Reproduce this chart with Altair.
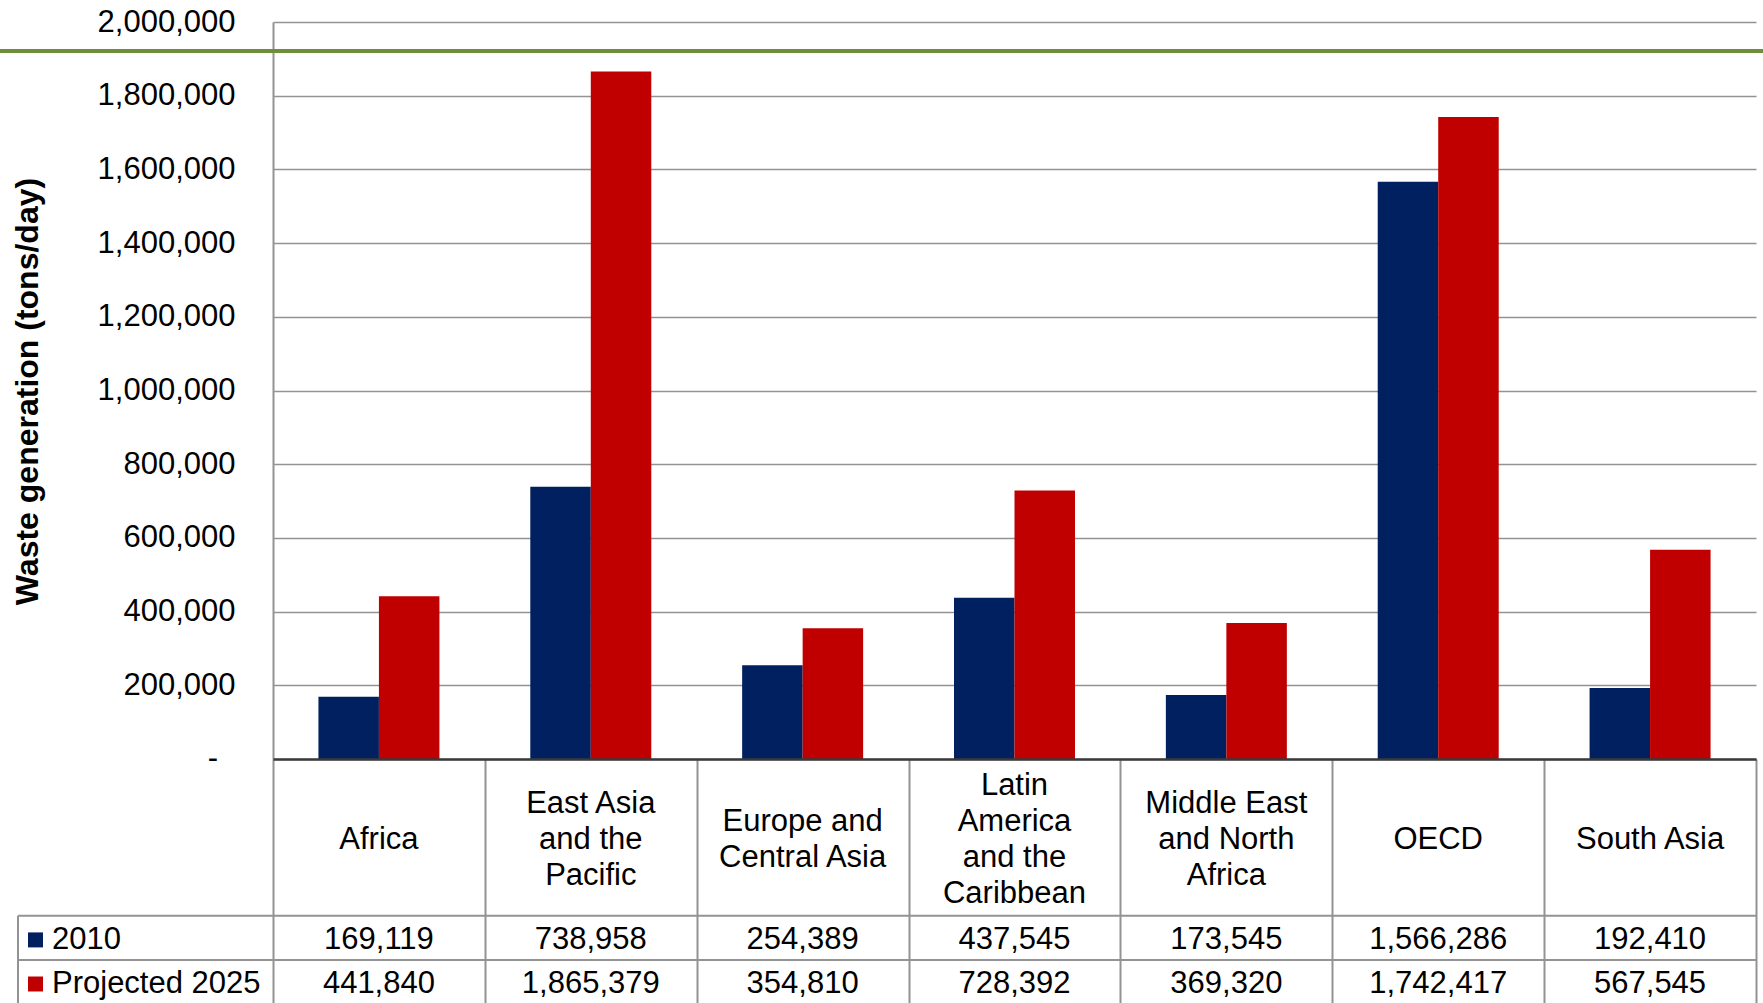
import altair as alt
import pandas as pd

regions = ["Africa", "East Asia and the Pacific", "Europe and Central Asia",
           "Latin America and the Caribbean", "Middle East and North Africa",
           "OECD", "South Asia"]
header_labels = ["Africa", "East Asia\nand the\nPacific", "Europe and\nCentral Asia",
                 "Latin\nAmerica\nand the\nCaribbean", "Middle East\nand North\nAfrica",
                 "OECD", "South Asia"]
series = ["2010", "Projected 2025"]
vals_2010 = [169119, 738958, 254389, 437545, 173545, 1566286, 192410]
vals_2025 = [441840, 1865379, 354810, 728392, 369320, 1742417, 567545]
y_ticks = [0, 200000, 400000, 600000, 800000, 1000000, 1200000, 1400000,
           1600000, 1800000, 2000000]
colors = ["#002060", "#C00000"]

FONT = "Liberation Sans"
GRAY = "#939393"
LH = 36  # header line height

rows = []
for r, a, b in zip(regions, vals_2010, vals_2025):
    rows.append({"region": r, "series": series[0], "value": a})
    rows.append({"region": r, "series": series[1], "value": b})
df = pd.DataFrame(rows)
hdr = pd.DataFrame({"region": regions, "header": header_labels})
leg = pd.DataFrame({"series": series})
one = pd.DataFrame({"k": [0]})
zero = pd.DataFrame({"v": [0], "t": ["-"]})

x_scale = alt.Scale(domain=regions, paddingInner=0, paddingOuter=0)
y_scale = alt.Scale(domain=[0, 2000000], nice=False)
row_scale = alt.Scale(type="point", domain=series, range=[917.9, 962.0], padding=0)
color = alt.Color("series:N", scale=alt.Scale(domain=series, range=colors), legend=None)

bars = alt.Chart(df).mark_bar().encode(
    x=alt.X("region:N", sort=regions, scale=x_scale,
            axis=alt.Axis(labels=False, title=None, grid=False,
                          domainColor="#3a3a3a", domainWidth=2.5,
                          tickBand="extent", tickSize=245, tickColor=GRAY,
                          tickWidth=2, zindex=1)),
    xOffset=alt.XOffset("series:N", sort=series,
                        scale=alt.Scale(domain=series, paddingInner=0, paddingOuter=0.751)),
    y=alt.Y("value:Q", scale=y_scale,
            axis=alt.Axis(values=y_ticks, format=",.0f",
                          labelExpr="datum.value == 0 ? '' : datum.label",
                          grid=True, gridColor=GRAY, gridWidth=1.5,
                          ticks=False, domainColor=GRAY, domainWidth=2,
                          labelFont=FONT, labelFontSize=31, labelColor="black",
                          labelPadding=38,
                          title="Waste generation (tons/day)",
                          titleFont=FONT, titleFontSize=32, titleFontWeight="bold",
                          titleColor="black", titleAngle=270, titleAlign="center",
                          titleBaseline="alphabetic", titleX=-236, titleY=369)),
    color=color,
)

zero_label = alt.Chart(zero).mark_text(
    font=FONT, fontSize=31, baseline="middle", align="right", color="black").encode(
    x=alt.value(-55),
    y=alt.Y("v:Q", scale=y_scale, axis=None),
    text="t:N")

green = alt.Chart(one).mark_rule(color="#6F8E3A", strokeWidth=4).encode(
    x=alt.value(-273), x2=alt.value(1490), y=alt.value(29))

header_text = alt.Chart(hdr).transform_calculate(
    yy=f"817.8 - (length(split(datum.header, '\\n')) - 1) * {LH} / 2"
).mark_text(
    font=FONT, fontSize=31, lineBreak="\n", lineHeight=LH, baseline="middle",
    align="center", color="black").encode(
    x=alt.X("region:N", sort=regions, scale=x_scale),
    y=alt.Y("yy:Q", scale=None, axis=None),
    text="header:N")

value_text = alt.Chart(df).mark_text(
    font=FONT, fontSize=31, baseline="middle", align="center", color="black").encode(
    x=alt.X("region:N", sort=regions, scale=x_scale),
    y=alt.Y("series:N", scale=row_scale, axis=None),
    text=alt.Text("value:Q", format=",.0f"))

leg_sq = alt.Chart(leg).mark_square(size=225, opacity=1, filled=True).encode(
    x=alt.value(-237.5),
    y=alt.Y("series:N", scale=row_scale, axis=None),
    color=color)

leg_txt = alt.Chart(leg).mark_text(
    font=FONT, fontSize=31, baseline="middle", align="left", color="black").encode(
    x=alt.value(-221),
    y=alt.Y("series:N", scale=row_scale, axis=None),
    text="series:N")

hline1 = alt.Chart(one).mark_rule(color=GRAY, strokeWidth=2).encode(
    x=alt.value(-255), x2=alt.value(1483), y=alt.value(893.7))
hline2 = alt.Chart(one).mark_rule(color=GRAY, strokeWidth=2).encode(
    x=alt.value(-255), x2=alt.value(1483), y=alt.value(938))
vleft = alt.Chart(one).mark_rule(color=GRAY, strokeWidth=2).encode(
    x=alt.value(-255), y=alt.value(893.7), y2=alt.value(990))

chart = alt.layer(
    bars, zero_label, green, header_text, value_text, leg_sq, leg_txt,
    hline1, hline2, vleft
).resolve_scale(y="independent").properties(
    width=1483, height=737,
    autosize=alt.AutoSizeParams(type="none"),
    padding={"left": 273, "top": 22, "right": 7, "bottom": 244},
    background="white",
).configure_view(stroke=None)

chart.save("out.html", embed_options={"renderer": "svg", "actions": False})
